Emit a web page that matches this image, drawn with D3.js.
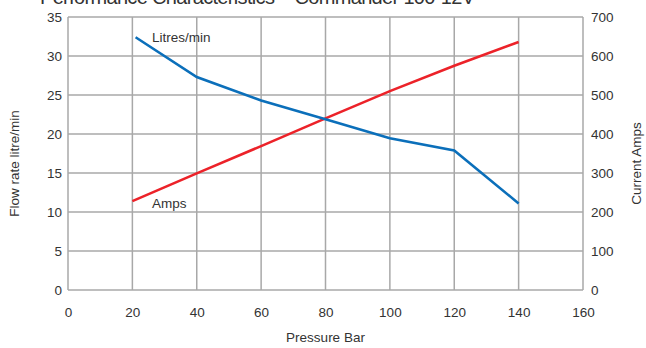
<!DOCTYPE html>
<html><head><meta charset="utf-8">
<script src="https://cdn.jsdelivr.net/npm/d3@7"></script>
<style>body{margin:0;background:#fff}svg{display:block}text{font-family:"Liberation Sans",Arial,sans-serif;fill:#333}</style>
</head><body>
<svg id="c" width="646" height="348"></svg>
<script>
const titleText = "Performance Characteristics \u2013 Commander 100-12V";
const pressure = [20, 40, 60, 80, 100, 120, 140];
const flowPressure = [21, 40, 60, 80, 100, 120, 140];
const flowLitres = [32.4, 27.3, 24.3, 21.9, 19.45, 17.9, 11.1];
const ampsValues = [228, 299, 369, 440, 510, 575, 636];
const xTicks = [0, 20, 40, 60, 80, 100, 120, 140, 160];
const yLeftTicks = [0, 5, 10, 15, 20, 25, 30, 35];
const yRightTicks = [0, 100, 200, 300, 400, 500, 600, 700];

const svg = d3.select("#c");
const L = 68, R = 583, T = 17, B = 290;
const x = d3.scaleLinear().domain([0, 160]).range([L, R]);
const yL = d3.scaleLinear().domain([0, 35]).range([B, T]);
const yR = d3.scaleLinear().domain([0, 700]).range([B, T]);

svg.append("text").attr("x", 40).attr("y", 3.5).attr("textLength", 435)
  .attr("font-size", 20).text(titleText);

const grid = svg.append("g").attr("stroke", "#a8a8a8").attr("stroke-width", 1.5);
xTicks.forEach(t => grid.append("line").attr("x1", x(t)).attr("x2", x(t)).attr("y1", T).attr("y2", B));
yLeftTicks.forEach(t => grid.append("line").attr("x1", L).attr("x2", R).attr("y1", yL(t)).attr("y2", yL(t)));

const axB = svg.append("g").attr("transform", `translate(0,${B})`)
  .call(d3.axisBottom(x).tickValues(xTicks).tickSize(0).tickPadding(17));
const axL = svg.append("g").attr("transform", `translate(${L},0)`)
  .call(d3.axisLeft(yL).tickValues(yLeftTicks).tickSize(0).tickPadding(6));
const axR = svg.append("g").attr("transform", `translate(${R},0)`)
  .call(d3.axisRight(yR).tickValues(yRightTicks).tickSize(0).tickPadding(8));
[axB, axL, axR].forEach(a => {
  a.select(".domain").remove();
  a.selectAll("text").attr("font-size", 13.5).attr("fill", "#333")
    .attr("font-family", "Liberation Sans, Arial, sans-serif");
});

const lineFlow = d3.line().x((d, i) => x(flowPressure[i])).y(d => yL(d));
const lineAmps = d3.line().x((d, i) => x(pressure[i])).y(d => yR(d));

svg.append("path").datum(ampsValues).attr("d", lineAmps)
  .attr("fill", "none").attr("stroke", "#ec2229").attr("stroke-width", 2.6);
svg.append("path").datum(flowLitres).attr("d", lineFlow)
  .attr("fill", "none").attr("stroke", "#0b6fba").attr("stroke-width", 2.6);

svg.append("text").attr("x", 152).attr("y", 42).attr("font-size", 13.5).text("Litres/min");
svg.append("text").attr("x", 152).attr("y", 208).attr("font-size", 13.5).text("Amps");

svg.append("text").attr("x", (L + R) / 2).attr("y", 342).attr("text-anchor", "middle")
  .attr("font-size", 13.5).text("Pressure Bar");
svg.append("text").attr("transform", `translate(19,${(T + B) / 2 + 10}) rotate(-90)`)
  .attr("text-anchor", "middle").attr("font-size", 13.5).text("Flow rate litre/min");
svg.append("text").attr("transform", `translate(641,${(T + B) / 2 + 10}) rotate(-90)`)
  .attr("text-anchor", "middle").attr("font-size", 13.5).text("Current Amps");
</script>
</body></html>
